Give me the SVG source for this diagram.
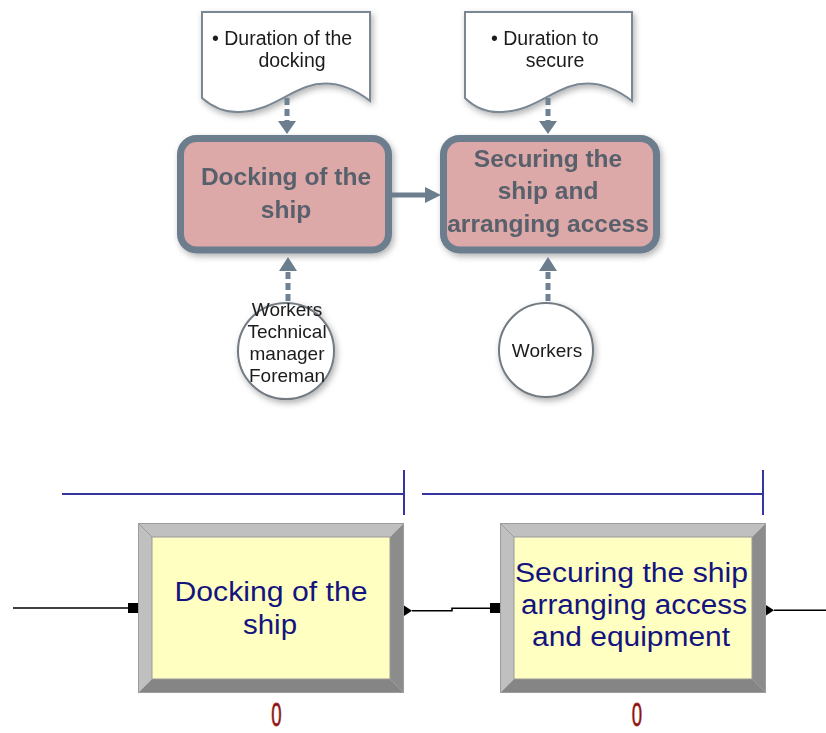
<svg xmlns="http://www.w3.org/2000/svg" width="826" height="733" viewBox="0 0 826 733">
  <style>
    .doc { fill: #ffffff; stroke: #7b8794; stroke-width: 2; }
    .proc { fill: #dca8a8; stroke: #6c7d8e; stroke-width: 7; }
    .res { fill: #ffffff; stroke: #727a82; stroke-width: 2; }
    .dash { stroke: #6f8193; stroke-width: 5; stroke-dasharray: 7 4; fill: none; }
    .solid { stroke: #6c7d8e; stroke-width: 5; fill: none; }
    .head { fill: #6c7d8e; }
    .note { font-family: "Liberation Sans", Arial, sans-serif; font-size: 19.5px; fill: #1a1a1a; }
    .ptxt { font-family: "Liberation Sans", Arial, sans-serif; font-size: 24.5px; font-weight: bold; fill: #58606c; text-anchor: middle; }
    .rtxt { font-family: "Liberation Sans", Arial, sans-serif; font-size: 19px; fill: #1a1a1a; text-anchor: middle; }
    .bar { stroke: #3434a2; stroke-width: 2; fill: none; }
    .bev-l { fill: #c0c0c0; }
    .bev-d { fill: #858585; }
    .bev-r { fill: #8c8c8c; }
    .face { fill: #ffffc2; stroke: #9a9a9a; stroke-width: 1; }
    .edge { fill: none; stroke: #9c9c9c; stroke-width: 1; }
    .mtxt { font-family: "Liberation Sans", Arial, sans-serif; font-size: 27px; fill: #14147e; text-anchor: middle; }
    .cnt { font-family: "Liberation Sans", Arial, sans-serif; font-size: 31px; fill: #7a1010; stroke: #b02a2a; stroke-width: 0.7; text-anchor: middle; }
    .link { stroke: #000000; stroke-width: 1.6; fill: none; }
  </style>
  <defs>
    <filter id="shadow" x="-20%" y="-20%" width="150%" height="150%">
      <feDropShadow dx="2" dy="3" stdDeviation="3" flood-color="#000000" flood-opacity="0.3"/>
    </filter>
  </defs>

  <rect width="826" height="733" fill="#ffffff"/>

  <!-- Upper concept model -->
  <g id="doc-docking" filter="url(#shadow)">
    <path class="doc" d="M202,12 H370 V101 C348,84 326,80 306,87 C284,95 268,111 240,112 C222,113 210,105 202,98 Z"/>
    <text class="note" x="212" y="45">• Duration of the</text>
    <text class="note" x="292" y="67" text-anchor="middle">docking</text>
  </g>

  <g id="doc-secure" filter="url(#shadow)">
    <path class="doc" d="M465,12 H632 V101 C610,84 588,80 568,87 C546,95 530,111 502,112 C484,113 472,105 465,98 Z"/>
    <text class="note" x="491" y="45">• Duration to</text>
    <text class="note" x="555" y="67" text-anchor="middle">secure</text>
  </g>

  <g id="proc-docking" filter="url(#shadow)">
    <rect class="proc" x="180.5" y="138.5" width="208" height="111.5" rx="16"/>
    <text class="ptxt" x="286" y="185">Docking of the</text>
    <text class="ptxt" x="286" y="218">ship</text>
  </g>

  <g id="proc-secure" filter="url(#shadow)">
    <rect class="proc" x="443.5" y="138.5" width="213" height="111.5" rx="16"/>
    <text class="ptxt" x="548" y="167">Securing the</text>
    <text class="ptxt" x="548" y="199">ship and</text>
    <text class="ptxt" x="548" y="232">arranging access</text>
  </g>

  <g id="res-docking" filter="url(#shadow)">
    <circle class="res" cx="286" cy="351" r="48"/>
    <text class="rtxt" x="287" y="316">Workers</text>
    <text class="rtxt" x="287" y="338">Technical</text>
    <text class="rtxt" x="287" y="360">manager</text>
    <text class="rtxt" x="287" y="382">Foreman</text>
  </g>

  <g id="res-secure" filter="url(#shadow)">
    <circle class="res" cx="546" cy="350" r="47"/>
    <text class="rtxt" x="547" y="357">Workers</text>
  </g>

  <g id="concept-links">
    <!-- input documents -->
    <line class="dash" x1="287" y1="98" x2="287" y2="121"/>
    <polygon class="head" points="278,121 296,121 287,134"/>
    <line class="dash" x1="548" y1="98" x2="548" y2="121"/>
    <polygon class="head" points="539,121 557,121 548,134"/>
    <!-- resources -->
    <line class="dash" x1="288" y1="301" x2="288" y2="271"/>
    <polygon class="head" points="279,271 297,271 288,257"/>
    <line class="dash" x1="548" y1="301" x2="548" y2="271"/>
    <polygon class="head" points="539,271 557,271 548,257"/>
    <!-- sequence -->
    <line class="solid" x1="392" y1="195" x2="427" y2="195"/>
    <polygon class="head" points="425,187 425,203 441,195"/>
  </g>

  <!-- Lower simulation model -->
  <g id="span-markers">
    <line class="bar" x1="62" y1="494" x2="404" y2="494"/>
    <line class="bar" x1="404" y1="470" x2="404" y2="515"/>
    <line class="bar" x1="422" y1="494" x2="763" y2="494"/>
    <line class="bar" x1="763" y1="470" x2="763" y2="515"/>
  </g>

  <g id="module-docking">
    <polygon class="bev-l" points="138,523 404,523 390,537 152,537"/>
    <polygon class="bev-l" points="138,523 152,537 152,679 138,693"/>
    <polygon class="bev-d" points="138,693 152,679 390,679 404,693"/>
    <polygon class="bev-r" points="404,523 404,693 390,679 390,537"/>
    <rect class="edge" x="138.5" y="523.5" width="265" height="169"/>
    <line class="edge" x1="138" y1="523" x2="152" y2="537"/>
    <line class="edge" x1="404" y1="693" x2="390" y2="679"/>
    <rect class="face" x="152" y="537" width="238" height="142"/>
    <text class="mtxt" x="271" y="601" textLength="193" lengthAdjust="spacingAndGlyphs">Docking of the</text>
    <text class="mtxt" x="270" y="634" textLength="54" lengthAdjust="spacingAndGlyphs">ship</text>
    <text class="cnt" transform="translate(276.5,725.5) scale(0.6,1.1)">0</text>
  </g>

  <g id="module-secure">
    <polygon class="bev-l" points="500,523 766,523 752,537 514,537"/>
    <polygon class="bev-l" points="500,523 514,537 514,679 500,693"/>
    <polygon class="bev-d" points="500,693 514,679 752,679 766,693"/>
    <polygon class="bev-r" points="766,523 766,693 752,679 752,537"/>
    <rect class="edge" x="500.5" y="523.5" width="265" height="169"/>
    <line class="edge" x1="500" y1="523" x2="514" y2="537"/>
    <line class="edge" x1="766" y1="693" x2="752" y2="679"/>
    <rect class="face" x="514" y="537" width="238" height="142"/>
    <text class="mtxt" x="631.5" y="582" textLength="233" lengthAdjust="spacingAndGlyphs">Securing the ship</text>
    <text class="mtxt" x="634" y="614" textLength="226" lengthAdjust="spacingAndGlyphs">arranging access</text>
    <text class="mtxt" x="631" y="646" textLength="198" lengthAdjust="spacingAndGlyphs">and equipment</text>
    <text class="cnt" transform="translate(637,725.5) scale(0.6,1.1)">0</text>
  </g>

  <g id="flow-links">
    <line class="link" x1="13" y1="608" x2="130" y2="608"/>
    <rect x="128" y="603" width="10" height="10" fill="#000000"/>
    <polygon points="404,605.5 404,616 412,610.7" fill="#000000"/>
    <polyline class="link" points="412,610.7 452,610.7 452,608.3 490,608.3"/>
    <rect x="490" y="603" width="10" height="10" fill="#000000"/>
    <polygon points="766,605 766,615.5 774,610.2" fill="#000000"/>
    <line class="link" x1="774" y1="610.2" x2="826" y2="610.2"/>
  </g>
</svg>
